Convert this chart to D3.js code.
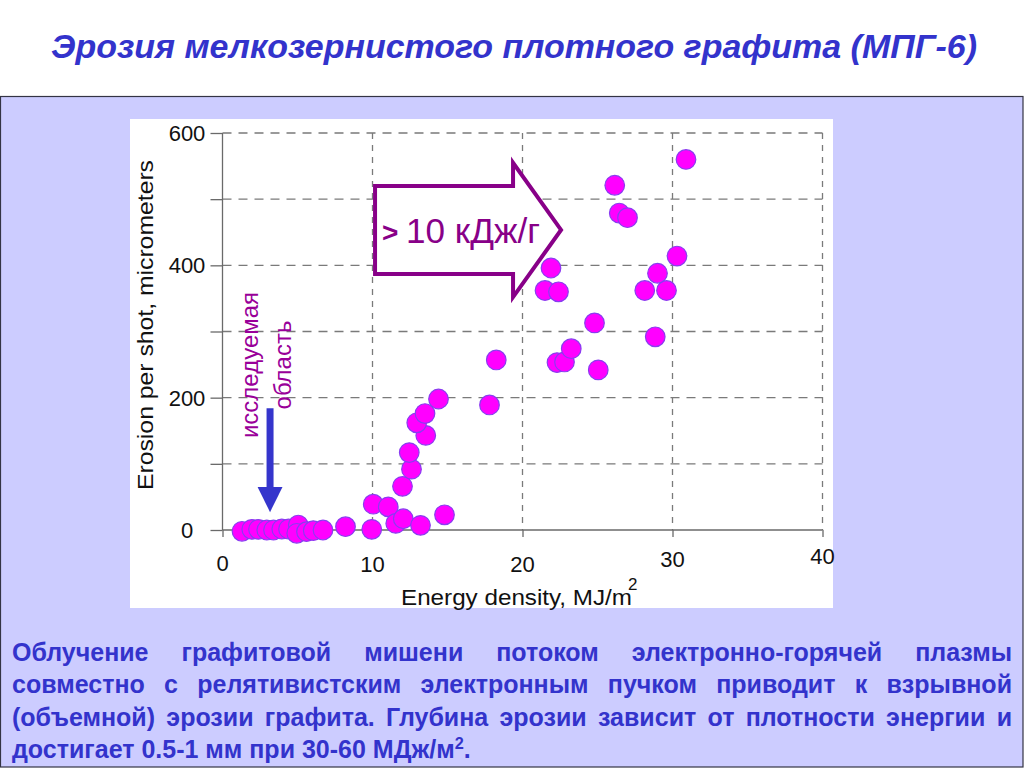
<!DOCTYPE html>
<html><head><meta charset="utf-8">
<script src="https://cdn.jsdelivr.net/npm/d3@7"></script>
<style>html,body{margin:0;padding:0;background:#fff;}svg{display:block;}</style>
</head><body>
<script>
// ---- data ----
const energy = [1.3,1.95,2.4,2.95,3.4,3.95,4.4,5.05,4.95,5.6,6.05,6.7,8.2,9.95,10.05,11.05,11.55,12.05,13.2,14.8,
  12.0,12.6,12.45,13.55,12.95,13.5,14.4,17.8,18.25,22.3,22.8,23.25,25.05,24.8,21.5,22.4,21.9,26.15,26.45,27.0,
  28.15,29.6,29.0,28.85,30.3,30.9];
const erosion = [-2,1,1,0,0,1.5,1.5,7.5,-5,-2.5,-1,0,5,1,39,35,10,17,7,23,
  66,92,117,143,162,176,198,189,257,253,254,274,242,313,362,360,396,521,479,472,
  362,362,388,292,414,560];
const xTicks = [0,10,20,30,40];
const yTicks = [0,100,200,300,400,500,600];
const yTickLabels = [0,200,400,600];

const titleText = "Эрозия мелкозернистого плотного графита (МПГ-6)";
const xLabel = "Energy density, MJ/m";
const yLabel = "Erosion per shot, micrometers";
const arrowText = "10 кДж/г";
const regionLines = ["исследуемая","область"];
const bodyLines = [
  "Облучение графитовой мишени потоком электронно-горячей плазмы",
  "совместно с релятивистским электронным пучком приводит к взрывной",
  "(объемной) эрозии графита. Глубина эрозии зависит от плотности энергии и"
];
const bodyLast = ["достигает 0.5-1 мм при 30-60 МДж/м", "2", "."];

// annotation geometry in data units
const bigArrow = {x0:10.17, x1:19.37, tip:22.57, yTop:520, yBot:387, headTop:555, headBot:352};
const blueArrow = {x:3.17, yStart:184, yHeadBase:65, yTip:27, halfW:0.83};

// ---- drawing ----
const W = 1024, H = 768;
const font = "'Liberation Sans', Arial, sans-serif";
const svg = d3.select("body").append("svg").attr("width", W).attr("height", H);

svg.append("rect").attr("x",0).attr("y",0).attr("width",W).attr("height",H).attr("fill","#ffffff");
svg.append("rect").attr("x",0.5).attr("y",96.5).attr("width",W-1.5).attr("height",H-97.5)
  .attr("fill","#ccccff").attr("stroke","#333344").attr("stroke-width",1.2);

// title
svg.append("text").attr("x",514).attr("y",58).attr("text-anchor","middle")
  .attr("font-family",font).attr("font-weight","bold").attr("font-style","italic")
  .attr("font-size",34).attr("fill","#3333cc")
  .attr("textLength",926).attr("lengthAdjust","spacingAndGlyphs")
  .text(titleText);

// white chart panel
svg.append("rect").attr("x",130).attr("y",119).attr("width",703).attr("height",489).attr("fill","#ffffff");

const x = d3.scaleLinear().domain([0,40]).range([222.5,822.5]);
const y = d3.scaleLinear().domain([0,600]).range([530,133]);

const g = svg.append("g");
g.selectAll(".hg").data(yTicks.filter(d=>d>0)).join("line")
  .attr("x1",x(0)).attr("x2",x(40)).attr("y1",d=>y(d)).attr("y2",d=>y(d))
  .attr("stroke","#7a7a7a").attr("stroke-width",1.3).attr("stroke-dasharray","9,7");
g.selectAll(".vg").data(xTicks.filter(d=>d>0)).join("line")
  .attr("x1",d=>x(d)).attr("x2",d=>x(d)).attr("y1",y(600)).attr("y2",y(0))
  .attr("stroke","#7a7a7a").attr("stroke-width",1.3).attr("stroke-dasharray","6,6");

const yAxis = d3.axisLeft(y).tickValues(yTicks).tickSize(12).tickFormat("");
const ya = g.append("g").attr("transform",`translate(${x(0)},0)`).call(yAxis);
const xAxis = d3.axisBottom(x).tickValues(xTicks).tickSize(7).tickFormat("");
const xa = g.append("g").attr("transform",`translate(0,${y(0)})`).call(xAxis);
[ya,xa].forEach(a=>{
  a.select(".domain").attr("stroke","#6a6a6a").attr("stroke-width",1.3);
  a.selectAll(".tick line").attr("stroke","#6a6a6a").attr("stroke-width",1.3);
});
ya.select(".domain").attr("d",`M0,${y(600)}V${y(0)}`);
xa.select(".domain").attr("d",`M${x(0)},0H${x(40)}`);

g.selectAll(".yl").data(yTickLabels).join("text")
  .attr("x",187).attr("y",d=>y(d)+8).attr("text-anchor","middle")
  .attr("font-family",font).attr("font-size",22).attr("fill","#111")
  .text(d=>d);
const xLabelDy = [0,1,1,-4,-7];
g.selectAll(".xl").data(xTicks).join("text")
  .attr("x",d=>x(d)).attr("y",(d,i)=>571+xLabelDy[i]).attr("text-anchor","middle")
  .attr("font-family",font).attr("font-size",22).attr("fill","#111")
  .text(d=>d);

g.append("text").attr("x",401).attr("y",605)
  .attr("font-family",font).attr("font-size",22).attr("fill","#111")
  .attr("textLength",231).attr("lengthAdjust","spacingAndGlyphs").text(xLabel);
g.append("text").attr("x",628).attr("y",590)
  .attr("font-family",font).attr("font-size",17).attr("fill","#111").text("2");
g.append("text").attr("transform",`translate(153,325) rotate(-90)`).attr("text-anchor","middle")
  .attr("font-family",font).attr("font-size",22).attr("fill","#111")
  .attr("textLength",330).attr("lengthAdjust","spacingAndGlyphs").text(yLabel);

// big outlined arrow
const ap = d3.path();
ap.moveTo(x(bigArrow.x0), y(bigArrow.yTop));
ap.lineTo(x(bigArrow.x1), y(bigArrow.yTop));
ap.lineTo(x(bigArrow.x1), y(bigArrow.headTop));
ap.lineTo(x(bigArrow.tip), y((bigArrow.yTop+bigArrow.yBot)/2));
ap.lineTo(x(bigArrow.x1), y(bigArrow.headBot));
ap.lineTo(x(bigArrow.x1), y(bigArrow.yBot));
ap.lineTo(x(bigArrow.x0), y(bigArrow.yBot));
ap.closePath();
g.append("path").attr("d",ap.toString()).attr("fill","#ffffff")
  .attr("stroke","#880088").attr("stroke-width",4).attr("stroke-linejoin","miter");
g.append("text").attr("x",382).attr("y",242).attr("font-family",font).attr("font-weight","bold")
  .attr("font-size",28).attr("fill","#880088").text(">");
g.append("text").attr("x",406).attr("y",243).attr("font-family",font)
  .attr("font-size",35).attr("fill","#880088").attr("textLength",134).attr("lengthAdjust","spacingAndGlyphs")
  .text(arrowText);

g.selectAll(".rl").data(regionLines).join("text")
  .attr("transform",(d,i)=>`translate(${258+i*33},365) rotate(-90)`)
  .attr("text-anchor","middle").attr("font-family",font).attr("font-size",24)
  .attr("fill","#990099").text(d=>d);

const bx = x(blueArrow.x);
g.append("line").attr("x1",bx).attr("x2",bx).attr("y1",y(blueArrow.yStart)).attr("y2",y(blueArrow.yHeadBase)+1)
  .attr("stroke","#3535cc").attr("stroke-width",7);
g.append("path").attr("d",
  `M${x(blueArrow.x-blueArrow.halfW)},${y(blueArrow.yHeadBase)}L${x(blueArrow.x+blueArrow.halfW)},${y(blueArrow.yHeadBase)}L${bx},${y(blueArrow.yTip)}Z`)
  .attr("fill","#3535cc");

g.selectAll(".pt").data(energy.map((e,i)=>[e,erosion[i]])).join("circle")
  .attr("cx",d=>x(d[0])).attr("cy",d=>y(d[1])).attr("r",9.8)
  .attr("fill","#ff00ff").attr("stroke","#8a3cf0").attr("stroke-width",1.2);

// body text, justified
const left = 12, right = 1012, base0 = 661, lh = 32.3;
let bfs = 25;
const tb = svg.append("g");
function layout(fs){
  tb.selectAll("*").remove();
  let minGap = Infinity;
  bodyLines.forEach((line,li)=>{
    const words = line.split(" ");
    const nodes = words.map(w=>tb.append("text").attr("y",base0+li*lh)
       .attr("font-family",font).attr("font-weight","bold").attr("font-size",fs)
       .attr("fill","#3333cc").text(w));
    const widths = nodes.map(n=>n.node().getComputedTextLength());
    const gap = (right-left-d3.sum(widths))/(words.length-1);
    minGap = Math.min(minGap, gap);
    let cx = left;
    nodes.forEach((n,i)=>{ n.attr("x",cx); cx += widths[i]+gap; });
  });
  const lt = tb.append("text").attr("x",left).attr("y",base0+3*lh)
    .attr("font-family",font).attr("font-weight","bold").attr("font-size",fs).attr("fill","#3333cc");
  lt.append("tspan").text(bodyLast[0]);
  lt.append("tspan").attr("dy",-9).attr("font-size",fs*0.65).text(bodyLast[1]);
  lt.append("tspan").attr("dy",9).text(bodyLast[2]);
  return minGap;
}
while (layout(bfs) < 5 && bfs > 18) bfs -= 0.5;
</script>
</body></html>
